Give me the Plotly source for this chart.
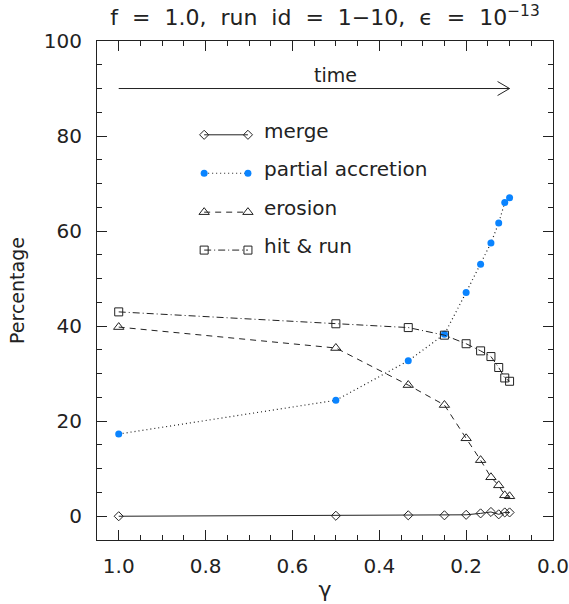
import plotly.graph_objects as go

# ---------------- data ----------------
gamma = [1.0, 0.5, 0.3333, 0.25, 0.2, 0.1667, 0.1429, 0.125, 0.1111, 0.1]
merge = [0.0, 0.1, 0.2, 0.2, 0.3, 0.6, 0.9, 0.4, 0.8, 0.8]
partial_accretion = [17.3, 24.4, 32.7, 38.3, 47.1, 53.0, 57.5, 61.7, 66.0, 67.0]
erosion = [39.8, 35.4, 27.6, 23.4, 16.4, 11.8, 8.2, 6.5, 4.4, 4.2]
hit_and_run = [43.0, 40.5, 39.7, 38.1, 36.3, 34.8, 33.6, 31.3, 29.1, 28.4]

series_names = ["merge", "partial accretion", "erosion", "hit & run"]
title_text = "f  =  1.0,  run  id  =  1−10,  ϵ  =  10<sup>−13</sup>"
x_title = "γ"
y_title = "Percentage"
arrow_label = "time"
arrow_from = 1.0
arrow_to = 0.1
arrow_level = 90

# ---------------- styles ----------------
INK = "#222222"
BLUE = "#0a84ff"
FONT = "DejaVu Sans"

styles = [
    dict(line=dict(color=INK, width=1, dash="solid"),
         marker=dict(symbol="diamond-open", size=7, color=INK, line=dict(width=1, color=INK))),
    dict(line=dict(color=INK, width=1.2, dash="1px,3px"),
         marker=dict(symbol="circle", size=7, color=BLUE, line=dict(width=0))),
    dict(line=dict(color=INK, width=1, dash="6px,5px"),
         marker=dict(symbol="triangle-up-open", size=9, color=INK, line=dict(width=1, color=INK))),
    dict(line=dict(color=INK, width=1, dash="7px,3px,1px,3px"),
         marker=dict(symbol="square-open", size=8, color=INK, line=dict(width=1, color=INK))),
]
values = [merge, partial_accretion, erosion, hit_and_run]

fig = go.Figure()
for name, vals, st in zip(series_names, values, styles):
    fig.add_trace(go.Scatter(x=gamma, y=vals, mode="lines+markers", name=name,
                             line=st["line"], marker=st["marker"], showlegend=False))

# ---------------- custom legend (overlay axes spanning the plot area) ----------------
leg_x0, leg_x1, leg_text_x = 0.235, 0.331, 0.362
leg_rows = [0.812, 0.735, 0.657, 0.581]
leg_text_dy = 0.008
for name, st, yy in zip(series_names, styles, leg_rows):
    fig.add_trace(go.Scatter(x=[leg_x0, leg_x1], y=[yy, yy], xaxis="x2", yaxis="y2",
                             mode="lines+markers", line=st["line"], marker=st["marker"],
                             showlegend=False, hoverinfo="skip"))
    fig.add_annotation(x=leg_text_x, y=yy + leg_text_dy, xref="x2", yref="y2", text=name,
                       showarrow=False, xanchor="left", yanchor="middle",
                       font=dict(family=FONT, size=20, color=INK))

# ---------------- time arrow ----------------
fig.add_shape(type="line", x0=arrow_from, x1=arrow_to, y0=arrow_level, y1=arrow_level,
              xref="x", yref="y", line=dict(color=INK, width=1))
for dy in (7, -7):
    fig.add_shape(type="line", xref="x", yref="y", xsizemode="pixel", ysizemode="pixel",
                  xanchor=arrow_to, yanchor=arrow_level, x0=-12, x1=0, y0=dy, y1=0,
                  line=dict(color=INK, width=1))
fig.add_annotation(x=(arrow_from + arrow_to) / 2 - 0.05, y=arrow_level, xref="x", yref="y",
                   text=arrow_label, showarrow=False, yanchor="bottom", yshift=1,
                   font=dict(family=FONT, size=19, color=INK))

axis_common = dict(
    showline=True, linecolor=INK, linewidth=1, mirror="allticks",
    ticks="inside", ticklen=10, tickwidth=1, tickcolor=INK,
    showgrid=False, zeroline=False, automargin=False,
    tickfont=dict(family=FONT, size=20, color=INK),
)

fig.update_layout(
    width=569, height=604,
    margin=dict(l=97, r=16, t=41, b=64),
    paper_bgcolor="white", plot_bgcolor="white",
    title=dict(text=title_text, x=0.5, xref="paper", xanchor="center",
               y=0.971, yanchor="middle", automargin=False,
               font=dict(family=FONT, size=22, color=INK)),
    xaxis=dict(range=[1.05, 0.0], dtick=0.2, tick0=0, tickformat=".1f",
               minor=dict(dtick=0.05, tick0=0, ticklen=5, ticks="inside", tickcolor=INK),
               ticklabelstandoff=8,
               title=dict(text=x_title, font=dict(family=FONT, size=22, color=INK), standoff=4),
               **axis_common),
    yaxis=dict(range=[-5, 100], dtick=20, tick0=0,
               minor=dict(dtick=5, tick0=0, ticklen=5, ticks="inside", tickcolor=INK),
               ticklabelstandoff=10,
               title=dict(text=y_title, font=dict(family=FONT, size=19, color=INK), standoff=14),
               **axis_common),
    xaxis2=dict(overlaying="x", range=[0, 1], visible=False),
    yaxis2=dict(overlaying="y", range=[0, 1], visible=False),
)

fig.write_html("out.html", config={"displayModeBar": False},
               post_script="document.body.style.margin='0';")
